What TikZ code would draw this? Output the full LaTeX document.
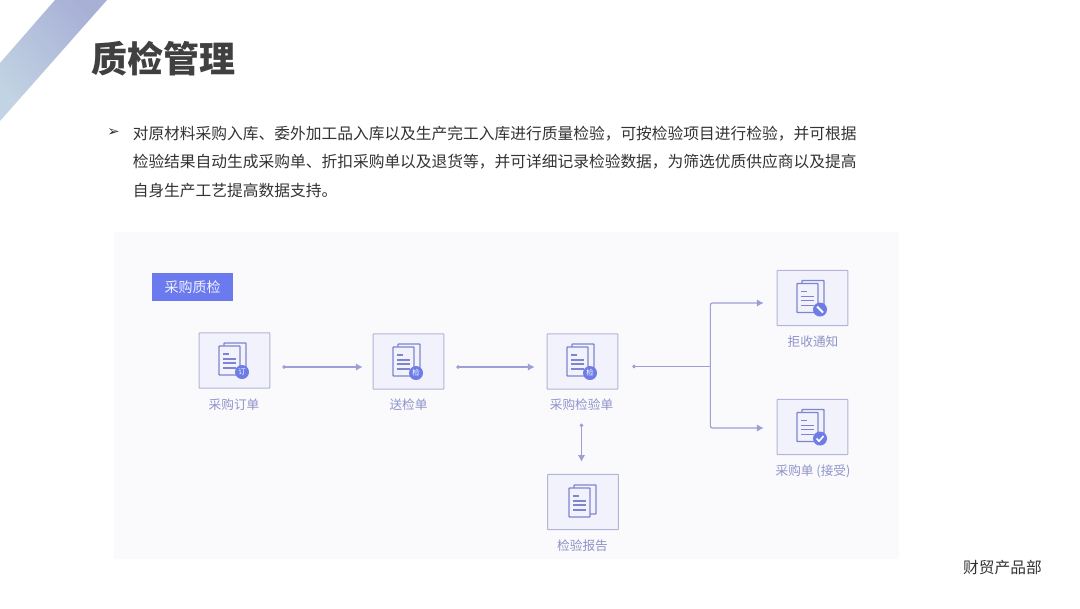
\documentclass[tikz,border=0pt]{standalone}
\usepackage{fontspec}
\setmainfont{Noto Sans CJK SC}
\newfontfamily\symfont{DejaVu Sans}
\usetikzlibrary{arrows.meta,calc}
\definecolor{titlec}{HTML}{404040}
\definecolor{bodyc}{HTML}{333333}
\definecolor{panelc}{HTML}{FAFAFC}
\definecolor{boxfill}{HTML}{F1F2FB}
\definecolor{boxline}{HTML}{B3B5D8}
\definecolor{iconc}{HTML}{7F84CE}
\definecolor{badgec}{HTML}{6E7CE6}
\definecolor{connc}{HTML}{9C9FD6}
\definecolor{labelc}{HTML}{8F93C9}
\definecolor{tagc}{HTML}{6C7AF0}
\definecolor{bandlow}{HTML}{C2D3E3}
\definecolor{bandhigh}{HTML}{A8B0D6}
\tikzset{
  box/.style={draw=boxline,fill=boxfill,line width=0.8pt,minimum width=53pt,minimum height=41.5pt,inner sep=0pt,rounded corners=0.5pt},
  lbl/.style={text=labelc,font=\fontsize{9.5pt}{11pt}\selectfont,inner sep=0pt},
  body/.style={text=bodyc,font=\fontsize{11.8pt}{14pt}\selectfont,inner sep=0pt,anchor=west},
  conn/.style={draw=connc,line width=0.9pt,{Circle[length=2.6pt,fill=connc]}-{Latex[length=5pt,width=5.5pt,fill=connc]}},
  connplain/.style={draw=connc,line width=0.9pt,{Circle[length=2.6pt,fill=connc]}-},
  connend/.style={draw=connc,line width=0.9pt,rounded corners=1.5pt,-{Latex[length=5pt,width=5.5pt,fill=connc]}},
  badge/.style={circle,fill=badgec,minimum size=10.5pt,inner sep=0pt,text=white,font=\fontsize{5.5pt}{6pt}\selectfont},
  pics/docbase/.style={code={
    \draw[iconc,line width=1.1pt,fill=boxfill,rounded corners=0.5pt] (-10.5,-17.5) rectangle (11.5,11.5);
    \draw[iconc,line width=1.1pt,fill=boxfill,rounded corners=0.5pt] (-15.5,-14.5) rectangle (5.5,14.5);
    \draw[iconc,line width=1pt] (-11.5,-6.5) -- (-6,-6.5) (-11.5,-1.5) -- (1,-1.5) (-11.5,2.5) -- (1,2.5) (-11.5,7.5) -- (1,7.5);
  }},
  pics/docbadge/.style={code={\node[badge] (-b) at (7.5,11.5) {#1};}},
}
\begin{document}
\begin{tikzpicture}[x=0.75pt,y=-0.75pt]
\useasboundingbox (0,0) rectangle (1080,608);
\fill[white] (0,0) rectangle (1080,608);
% corner band
\shade[left color=bandlow,right color=bandhigh,shading angle=130] (55,0) -- (107,0) -- (0,121) -- (0,63) -- cycle;
% title
\node[text=titlec,font=\bfseries\fontsize{27pt}{32pt}\selectfont,inner sep=0pt,anchor=west] (title) at (91,59) {质检管理};
% bullet text
\node[text=bodyc,font=\symfont\fontsize{11pt}{12pt}\selectfont,inner sep=0pt] (bullet) at (113.5,133) {➢};
\node[body] (line1) at (132.5,133.5) {对原材料采购入库、委外加工品入库以及生产完工入库进行质量检验，可按检验项目进行检验，并可根据};
\node[body] (line2) at (132.5,162) {检验结果自动生成采购单、折扣采购单以及退货等，并可详细记录检验数据，为筛选优质供应商以及提高};
\node[body] (line3) at (132.5,190.5) {自身生产工艺提高数据支持。};
% panel
\fill[panelc] (114,232) rectangle (899,559);
% tag
\node[fill=tagc,text=white!90!tagc,font=\fontsize{10.5pt}{12pt}\selectfont,minimum width=60.5pt,minimum height=21pt,inner sep=0pt] (tag) at (192.5,287) {采购质检};
% boxes
\node[box] (a) at (234.5,360.5) {};
\node[box] (b) at (408.5,361.5) {};
\node[box] (c) at (582.5,361.5) {};
\node[box] (d) at (583,502) {};
\node[box] (e) at (812.5,298) {};
\node[box] (f) at (812.5,427) {};
% icons
\pic (ia) at (a) {docbase}; \pic (ba) at (a) {docbadge={订}};
\pic (ib) at (b) {docbase}; \pic (bb) at (b) {docbadge={检}};
\pic (ic) at (c) {docbase}; \pic (bc) at (c) {docbadge={检}};
\pic (id) at ([shift={(1.5,0.5)}]d.center) {docbase};
\pic (ie) at (e) {docbase}; \pic (be) at (e) {docbadge={}};
\pic (if) at (f) {docbase}; \pic (bf) at (f) {docbadge={}};
\draw[white,line width=1.4pt] ([shift={(-3,-3)}]be-b.center) -- ([shift={(3,3)}]be-b.center);
\draw[white,line width=1.2pt] ([shift={(-3.5,0)}]bf-b.center) -- ([shift={(-1,2.7)}]bf-b.center) -- ([shift={(3.5,-2.5)}]bf-b.center);
% labels
\node[lbl] (la) at (234,405) {采购订单};
\node[lbl] (lb) at (408.5,405) {送检单};
\node[lbl] (lc) at (581.5,405) {采购检验单};
\node[lbl] (ld) at (582.5,546) {检验报告};
\node[lbl] (le) at (813,342) {拒收通知};
\node[lbl] (lf) at (813,471.5) {采购单 (接受)};
% connectors
\draw[conn] ([shift={(12,6.5)}]a.east) -- ([shift={(-10,5.5)}]b.west);
\draw[conn] ([shift={(12,5.5)}]b.east) -- ([shift={(-12,5.5)}]c.west);
\draw[conn] ([shift={(-1,34)}]c.south) -- ([shift={(-1.5,-12)}]d.north);
\coordinate (split) at ([shift={(92,5)}]c.east);
\draw[connplain] ([shift={(14,5)}]c.east) -- (split);
\draw[connend] (split) |- ([shift={(-13,5)}]e.west);
\draw[connend] (split) |- ([shift={(-13,1)}]f.west);
% footer
\node[text=bodyc,font=\fontsize{11.8pt}{14pt}\selectfont,inner sep=0pt,anchor=east] (foot) at (1042,568) {财贸产品部};
\end{tikzpicture}
\end{document}
